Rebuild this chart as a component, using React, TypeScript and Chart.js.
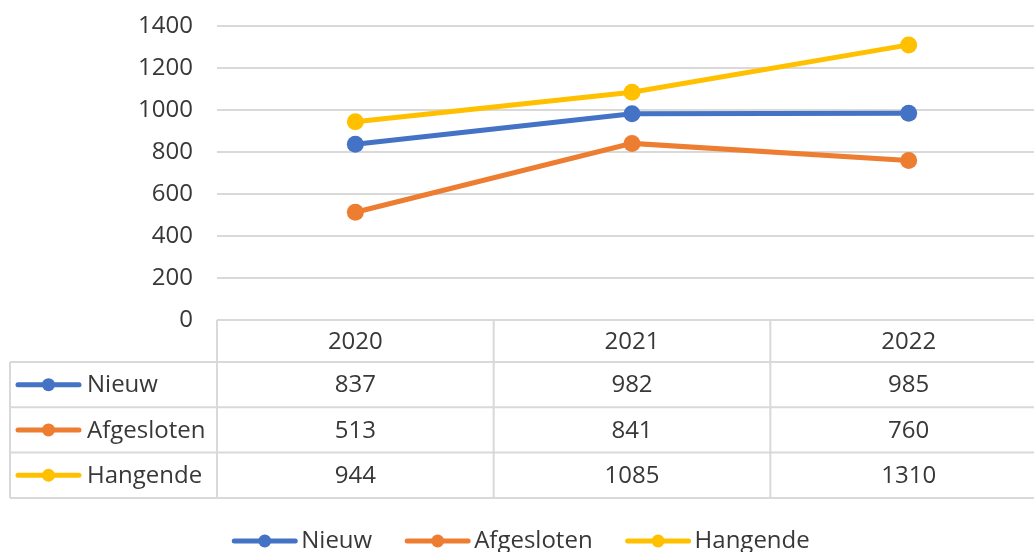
import React, { useEffect, useRef } from "react";
import { Chart, registerables } from "chart.js";

Chart.register(...registerables);

const categories = ["2020", "2021", "2022"];
const seriesNames = ["Nieuw", "Afgesloten", "Hangende"];
const nieuw = [837, 982, 985];
const afgesloten = [513, 841, 760];
const hangende = [944, 1085, 1310];
const seriesColors = ["#4472C4", "#ED7D31", "#FFC000"];
const yMin = 0;
const yMax = 1400;
const yStep = 200;

const FONT = "24px 'Open Sans'";
const TEXT = "#383838";
const BORDER = "#d9d9d9";

function drawKey(ctx: CanvasRenderingContext2D, x: number, y: number, color: string) {
  ctx.save();
  ctx.strokeStyle = color;
  ctx.lineWidth = 5;
  ctx.lineCap = "round";
  ctx.beginPath();
  ctx.moveTo(x + 2, y);
  ctx.lineTo(x + 63, y);
  ctx.stroke();
  ctx.fillStyle = color;
  ctx.beginPath();
  ctx.arc(x + 32.5, y, 6.5, 0, Math.PI * 2);
  ctx.fill();
  ctx.restore();
}

const tablePlugin = {
  id: "dataTable",
  afterDraw(chart: any) {
    const ctx: CanvasRenderingContext2D = chart.ctx;
    const xs = chart.scales.x;
    const ys = chart.scales.y;
    const top = ys.bottom;
    const left = xs.left;
    const right = xs.right;
    const n = categories.length;
    const colW = (right - left) / n;
    const headerH = 42;
    const rowH = 45.3;
    const tableLeft = 10;
    const bottom = top + headerH + rowH * seriesNames.length;

    ctx.save();
    ctx.strokeStyle = BORDER;
    ctx.lineWidth = 2;
    ctx.beginPath();
    ctx.moveTo(left, top);
    ctx.lineTo(right, top);
    for (let r = 0; r <= seriesNames.length; r++) {
      const y = top + headerH + r * rowH;
      ctx.moveTo(tableLeft, y);
      ctx.lineTo(right, y);
    }
    ctx.moveTo(tableLeft, top + headerH);
    ctx.lineTo(tableLeft, bottom);
    for (let c = 0; c <= n; c++) {
      const x = left + c * colW;
      ctx.moveTo(x, top);
      ctx.lineTo(x, bottom);
    }
    ctx.stroke();

    ctx.font = FONT;
    ctx.fillStyle = TEXT;
    ctx.textAlign = "center";
    ctx.textBaseline = "middle";
    categories.forEach((cat, i) => {
      ctx.fillText(cat, xs.getPixelForValue(i), top + headerH / 2 + 1);
    });
    chart.data.datasets.forEach((ds: any, r: number) => {
      const yMid = top + headerH + r * rowH + rowH / 2 + 1;
      ds.data.forEach((v: number, i: number) => {
        ctx.fillStyle = TEXT;
        ctx.textAlign = "center";
        ctx.fillText(String(v), xs.getPixelForValue(i), yMid);
      });
      drawKey(ctx, 16, yMid - 1, seriesColors[r]);
      ctx.fillStyle = TEXT;
      ctx.textAlign = "left";
      ctx.fillText(ds.label, 87, yMid);
    });

    const legendY = 541;
    const lineLen = 65;
    const gap = 4;
    const itemGap = 33;
    const widths = seriesNames.map((s) => lineLen + gap + ctx.measureText(s).width);
    const total = widths.reduce((a, b) => a + b, 0) + itemGap * (widths.length - 1);
    let x = 521 - total / 2;
    seriesNames.forEach((s, i) => {
      drawKey(ctx, x, legendY, seriesColors[i]);
      ctx.fillStyle = TEXT;
      ctx.textAlign = "left";
      ctx.fillText(s, x + lineLen + gap, legendY);
      x += widths[i] + itemGap;
    });
    ctx.restore();
  },
};

export default function App() {
  const ref = useRef<HTMLCanvasElement>(null);
  useEffect(() => {
    if (!ref.current) return;
    const seriesData = [nieuw, afgesloten, hangende];
    const chart = new Chart(ref.current, {
      type: "line",
      data: {
        labels: categories,
        datasets: seriesNames.map((name, i) => ({
          label: name,
          data: seriesData[i],
          borderColor: seriesColors[i],
          backgroundColor: seriesColors[i],
          borderWidth: 5,
          pointRadius: 8.5,
          pointHoverRadius: 8.5,
          pointBorderWidth: 0,
          pointBackgroundColor: seriesColors[i],
          tension: 0,
          fill: false,
        })),
      },
      options: {
        responsive: false,
        devicePixelRatio: 1,
        animation: false,
        layout: { autoPadding: false, padding: { left: 0, top: 26, right: 3, bottom: 232 } },
        plugins: { legend: { display: false }, tooltip: { enabled: false } },
        scales: {
          x: { type: "category", display: false, offset: true },
          y: {
            min: yMin,
            max: yMax,
            afterFit: (scale: any) => {
              scale.width = 217;
              scale.paddingTop = 0;
              scale.paddingBottom = 0;
            },
            border: { display: false },
            grid: { color: BORDER, lineWidth: 2, drawTicks: false },
            ticks: {
              stepSize: yStep,
              padding: 24,
              color: TEXT,
              font: { family: "'Open Sans'", size: 24 },
              callback: (v: any) => String(v),
            },
          },
        },
      },
      plugins: [tablePlugin],
    });
    return () => chart.destroy();
  }, []);
  return (
    <div
      style={{
        position: "fixed",
        left: 0,
        top: 0,
        width: 1034,
        height: 552,
        overflow: "hidden",
        background: "#fff",
      }}
    >
      <canvas ref={ref} width={1050} height={552} style={{ display: "block" }} />
    </div>
  );
}
